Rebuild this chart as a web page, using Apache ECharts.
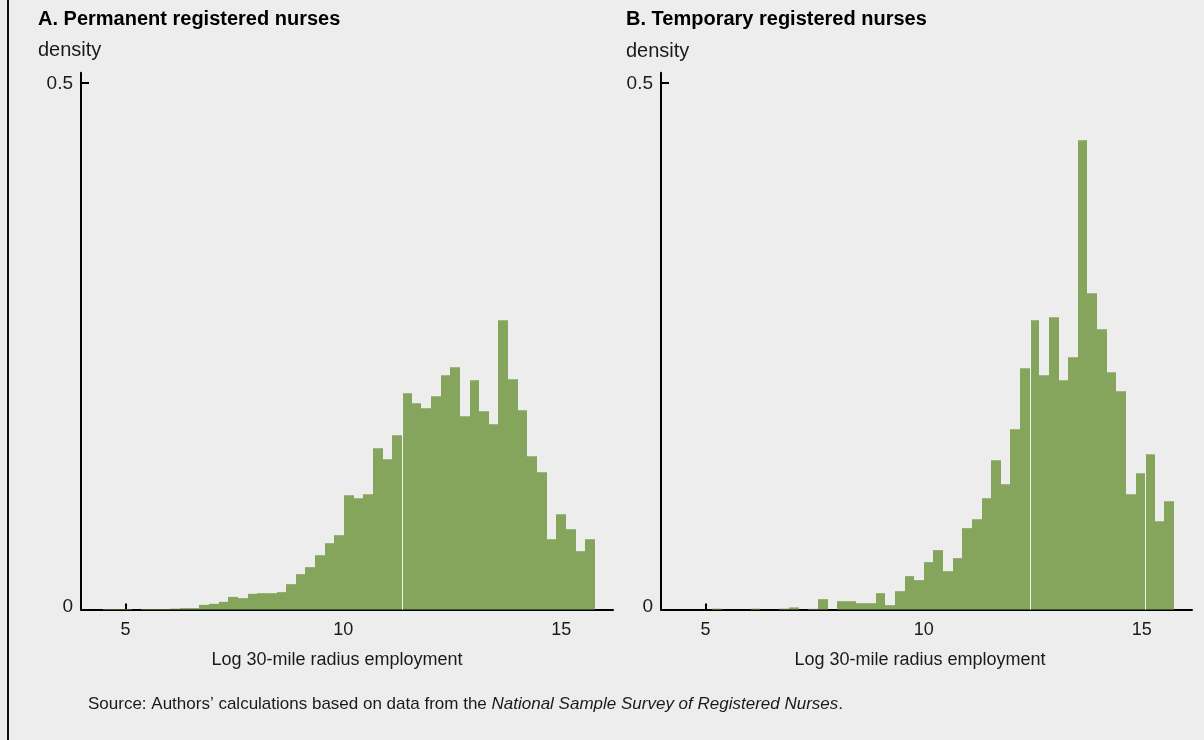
<!DOCTYPE html>
<html>
<head>
<meta charset="utf-8">
<script src="https://cdn.jsdelivr.net/npm/echarts@6/dist/echarts.min.js"></script>
<style>
  html, body { margin: 0; padding: 0; background: #ededed; }
  #chart { width: 1204px; height: 740px; }
  #edge { position: absolute; left: 7px; top: 0; width: 2px; height: 740px; background: #111; }
</style>
</head>
<body>
<div id="chart"></div>
<div id="edge"></div>
<script>
// tick labels
const xTicks = [5, 10, 15]
const yTicks = [0, 0.5]

// panel A: permanent RNs, histogram bins (left edge of first bin, bin width, densities)
const permStart = 4.48
const permWidth = 0.2215
const permDensity = [
  0.0005, 0.0005, 0.0005, 0, 0.0005, 0.0005, 0.0005, 0.0008,
  0.0013, 0.0013, 0.0044, 0.0054, 0.0073, 0.0120, 0.0108, 0.0149, 0.0155, 0.0155,
  0.0165, 0.0241, 0.0336, 0.0402, 0.0516, 0.0630, 0.0706, 0.1086, 0.1058, 0.1096,
  0.1533, 0.1428, 0.1656, 0.2055, 0.1960, 0.1913, 0.2027, 0.2226, 0.2302, 0.1837,
  0.2179, 0.1884, 0.1761, 0.2749, 0.2188, 0.1894, 0.1457, 0.1305, 0.0668, 0.0906,
  0.0763, 0.0554, 0.0668
]
const permSeams = [31]

// panel B: temporary RNs
const tempStart = 5.149
const tempWidth = 0.2206
const tempDensity = [
  0.0008, 0, 0, 0, 0.0008, 0, 0, 0.0008,
  0.0020, 0, 0.0006, 0.0098, 0, 0.0079, 0.0079, 0.0060, 0.0060, 0.0155,
  0.0041, 0.0174, 0.0317, 0.0279, 0.0450, 0.0564, 0.0364, 0.0488, 0.0773, 0.0858,
  0.1058, 0.1419, 0.1191, 0.1713, 0.2293, 0.2749, 0.2226, 0.2777, 0.2179, 0.2397,
  0.4459, 0.3005, 0.2663, 0.2255, 0.2074, 0.1096, 0.1295, 0.1476, 0.0839, 0.1029
]
const tempSeams = [33, 45]

const green = '#86a55c'
const ink = '#1a1a1a'
const font = 'Liberation Sans, Arial, sans-serif'

function bins(start, width, dens) {
  return dens.map((d, i) => [start + i * width, start + (i + 1) * width, d])
}

function histSeries(idx, data, seams) {
  return {
    type: 'custom',
    xAxisIndex: idx,
    yAxisIndex: idx,
    encode: { x: [0, 1], y: 2 },
    data: data,
    renderItem: function (params, api) {
      const top = api.coord([api.value(0), api.value(2)])
      const bot = api.coord([api.value(1), 0])
      const x0 = Math.round(top[0])
      const x1 = Math.round(bot[0])
      const children = [{
        type: 'rect',
        shape: { x: x0, y: top[1], width: x1 - x0, height: bot[1] - top[1] },
        style: { fill: green }
      }]
      if (seams.indexOf(params.dataIndex) >= 0) {
        children.push({
          type: 'rect',
          shape: { x: x0, y: top[1], width: 1, height: bot[1] - top[1] },
          style: { fill: '#f2f2f2' }
        })
      }
      return { type: 'group', children: children }
    }
  }
}

function xAxis(idx, max, shift) {
  return {
    type: 'value',
    gridIndex: idx,
    min: 3.98,
    max: max,
    name: 'Log 30-mile radius employment',
    nameLocation: 'middle',
    nameGap: 42,
    nameTextStyle: { fontFamily: font, fontSize: 18, color: ink, padding: [0, shift, 0, 0] },
    splitLine: { show: false },
    axisLine: { onZero: false, lineStyle: { color: '#000', width: 2 } },
    axisTick: { inside: true, length: 6, lineStyle: { color: '#000', width: 2 }, customValues: xTicks },
    axisLabel: { fontFamily: font, fontSize: 18, color: ink, margin: 12, customValues: xTicks }
  }
}

function yAxis(idx) {
  return {
    type: 'value',
    gridIndex: idx,
    min: 0,
    max: 0.51,
    splitLine: { show: false },
    axisLine: { show: true, onZero: false, lineStyle: { color: '#000', width: 2 } },
    axisTick: { show: true, inside: true, length: 8, lineStyle: { color: '#000', width: 2 }, customValues: [0.5] },
    axisLabel: {
      fontFamily: font, fontSize: 19, color: ink, margin: 8,
      customValues: yTicks,
      formatter: v => v === 0 ? '{lo|0}' : '{hi|' + v + '}',
      rich: {
        lo: { fontFamily: font, fontSize: 19, color: ink, padding: [0, 0, 6, 0] },
        hi: { fontFamily: font, fontSize: 19, color: ink, padding: [2, 0, 0, 0] }
      }
    }
  }
}

const chart = echarts.init(document.getElementById('chart'))
chart.setOption({
  backgroundColor: '#ededed',
  animation: false,
  title: [
    { text: 'A. Permanent registered nurses', left: 38, top: 9, padding: 0,
      textStyle: { fontFamily: font, fontSize: 20, fontWeight: 'bold', color: '#000' } },
    { text: 'density', left: 38, top: 40, padding: 0,
      textStyle: { fontFamily: font, fontSize: 20, fontWeight: 'normal', color: ink } },
    { text: 'B. Temporary registered nurses', left: 626, top: 9, padding: 0,
      textStyle: { fontFamily: font, fontSize: 20, fontWeight: 'bold', color: '#000' } },
    { text: 'density', left: 626, top: 41, padding: 0,
      textStyle: { fontFamily: font, fontSize: 20, fontWeight: 'normal', color: ink } },
    { text: 'Source: Authors\u2019 calculations based on data from the {i|National Sample Survey of Registered Nurses}.',
      left: 88, top: 696, padding: 0,
      textStyle: {
        fontFamily: font, fontSize: 17, fontWeight: 'normal', color: ink,
        rich: { i: { fontFamily: font, fontSize: 17, fontStyle: 'italic', color: ink } }
      } }
  ],
  grid: [
    { left: 81, width: 532, top: 72.7, bottom: 130.5 },
    { left: 661, width: 531, top: 72.7, bottom: 130.5 }
  ],
  xAxis: [xAxis(0, 16.19, 20), xAxis(1, 16.15, 13)],
  yAxis: [yAxis(0), yAxis(1)],
  series: [
    histSeries(0, bins(permStart, permWidth, permDensity), permSeams),
    histSeries(1, bins(tempStart, tempWidth, tempDensity), tempSeams)
  ]
})
</script>
</body>
</html>
